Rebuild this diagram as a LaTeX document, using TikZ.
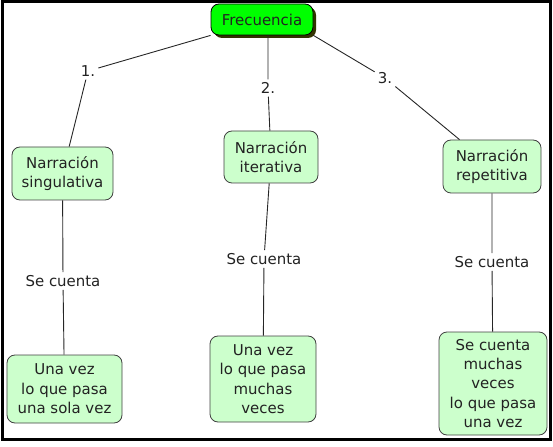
\documentclass[tikz,border=0pt]{standalone}
\usepackage{fontspec}
\setmainfont{DejaVu Sans}
\usepackage{xcolor}
\usepackage{tikz}
\usetikzlibrary{positioning,shadows}

\definecolor{topgreen}{HTML}{00FF00}
\definecolor{topshadow}{HTML}{333300}
\definecolor{palegreen}{HTML}{CCFFCC}
\definecolor{textgray}{HTML}{222222}

\begin{document}
\begin{tikzpicture}[x=1bp, y=-1bp,
    concept/.style={rectangle, rounded corners=8bp, draw=black!75, line width=0.8bp, fill=palegreen, align=center, inner sep=2bp, text=textgray, font=\fontsize{15}{19.5}\selectfont},
    root/.style={concept, fill=topgreen, draw=black, drop shadow={shadow xshift=3bp, shadow yshift=-3bp, fill=topshadow, opacity=1}},
    tag/.style={inner sep=3bp, text=textgray, font=\fontsize{15}{19.5}\selectfont},
    link/.style={draw=black!85, line width=0.9bp}
]

\useasboundingbox (0,0) rectangle (553,447);
\draw[line width=3bp] (2.5,1.5) rectangle (550.5,439.5);

% Concepts
\node[root, minimum width=102bp, minimum height=31bp] (freq) at (262,19.5) {Frecuencia};
\node[concept, minimum width=101bp, minimum height=53bp] (sing) at (62.5,173.5) {Narración\\singulativa};
\node[concept, minimum width=94bp, minimum height=52bp] (iter) at (271,157) {Narración\\iterativa};
\node[concept, minimum width=98bp, minimum height=53bp] (rep) at (492,166.5) {Narración\\repetitiva};
\node[concept, minimum width=115bp, minimum height=68bp] (once) at (64.5,389) {Una vez\\lo que pasa\\una sola vez};
\node[concept, minimum width=106bp, minimum height=86bp] (many) at (263,379) {Una vez\\lo que pasa\\muchas\\veces};
\node[concept, minimum width=108bp, minimum height=103bp] (again) at (493,383.5) {Se cuenta\\muchas\\veces\\lo que pasa\\una vez};

% Link labels
\node[tag] (n1) at (88,71) {1.};
\node[tag] (n2) at (268,88) {2.};
\node[tag] (n3) at (385,78) {3.};
\node[tag] (c1) at (63,281) {Se cuenta};
\node[tag] (c2) at (264,259) {Se cuenta};
\node[tag] (c3) at (492,262) {Se cuenta};

% Links
\draw[link] (freq.south west) -- (n1) -- (sing);
\draw[link] (freq.south -| n2) -- (n2) -- (iter);
\draw[link] (freq.south east) -- (n3) -- (rep);
\draw[link] (sing) -- (c1) -- (once);
\draw[link] (iter) -- (c2) -- (many);
\draw[link] (rep) -- (c3) -- (again);

\end{tikzpicture}
\end{document}
